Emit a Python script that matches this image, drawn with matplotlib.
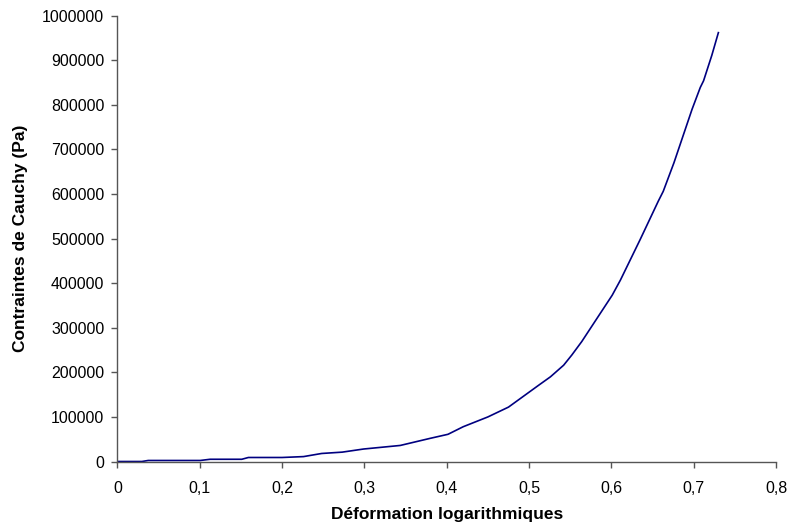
import matplotlib
matplotlib.use("Agg")
import matplotlib.pyplot as plt
from matplotlib.ticker import FuncFormatter, MultipleLocator

strain = [0, 0.0296, 0.0373, 0.1005, 0.1126, 0.151, 0.159, 0.2, 0.226, 0.248, 0.273, 0.299,
          0.3435, 0.38, 0.4015, 0.42, 0.45, 0.475, 0.5116, 0.526, 0.542, 0.552, 0.564,
          0.601, 0.611, 0.635, 0.657, 0.663, 0.676, 0.698, 0.708, 0.712, 0.722, 0.730]
stress = [0, 0, 2300, 2300, 5000, 5000, 9000, 9000, 11000, 18000, 21000, 28000,
          36000, 52000, 61000, 78000, 100000, 122000, 171000, 190000, 216000, 239000, 269000,
          373000, 407000, 498000, 584000, 606000, 670000, 790000, 839000, 854000, 911000, 962000]

xlabel = "Déformation logarithmiques"
ylabel = "Contraintes de Cauchy (Pa)"

plt.rcParams['font.family'] = ['Liberation Sans', 'DejaVu Sans']

fig = plt.figure(figsize=(7.88, 5.25), dpi=100)
L, R, T, B = 117.5, 776, 15.7, 461.5
ax = fig.add_axes([L/788, 1-B/525, (R-L)/788, (B-T)/525])
ax.plot(strain, stress, color='#000080', linewidth=1.2)

ax.set_xlim(0, 0.8)
ax.set_ylim(0, 1000000)
ax.xaxis.set_major_locator(MultipleLocator(0.1))
ax.yaxis.set_major_locator(MultipleLocator(100000))
ax.xaxis.set_major_formatter(FuncFormatter(lambda v, p: ("%g" % round(v, 2)).replace('.', ',')))
ax.yaxis.set_major_formatter(FuncFormatter(lambda v, p: "%d" % round(v)))

for s in ['top', 'right']:
    ax.spines[s].set_visible(False)
for s in ['left', 'bottom']:
    ax.spines[s].set_color('#555555')
    ax.spines[s].set_linewidth(1.0)
ax.tick_params(axis='both', direction='out', length=4.5, width=1, color='#555555',
               labelsize=11.5)
ax.tick_params(axis='x', pad=9.5)
ax.tick_params(axis='y', pad=5)

ax.set_xlabel(xlabel, fontsize=12.5, fontweight='bold', labelpad=8)
ax.set_ylabel(ylabel, fontsize=12.5, fontweight='bold', labelpad=10)

fig.savefig("out.png", dpi=100)
